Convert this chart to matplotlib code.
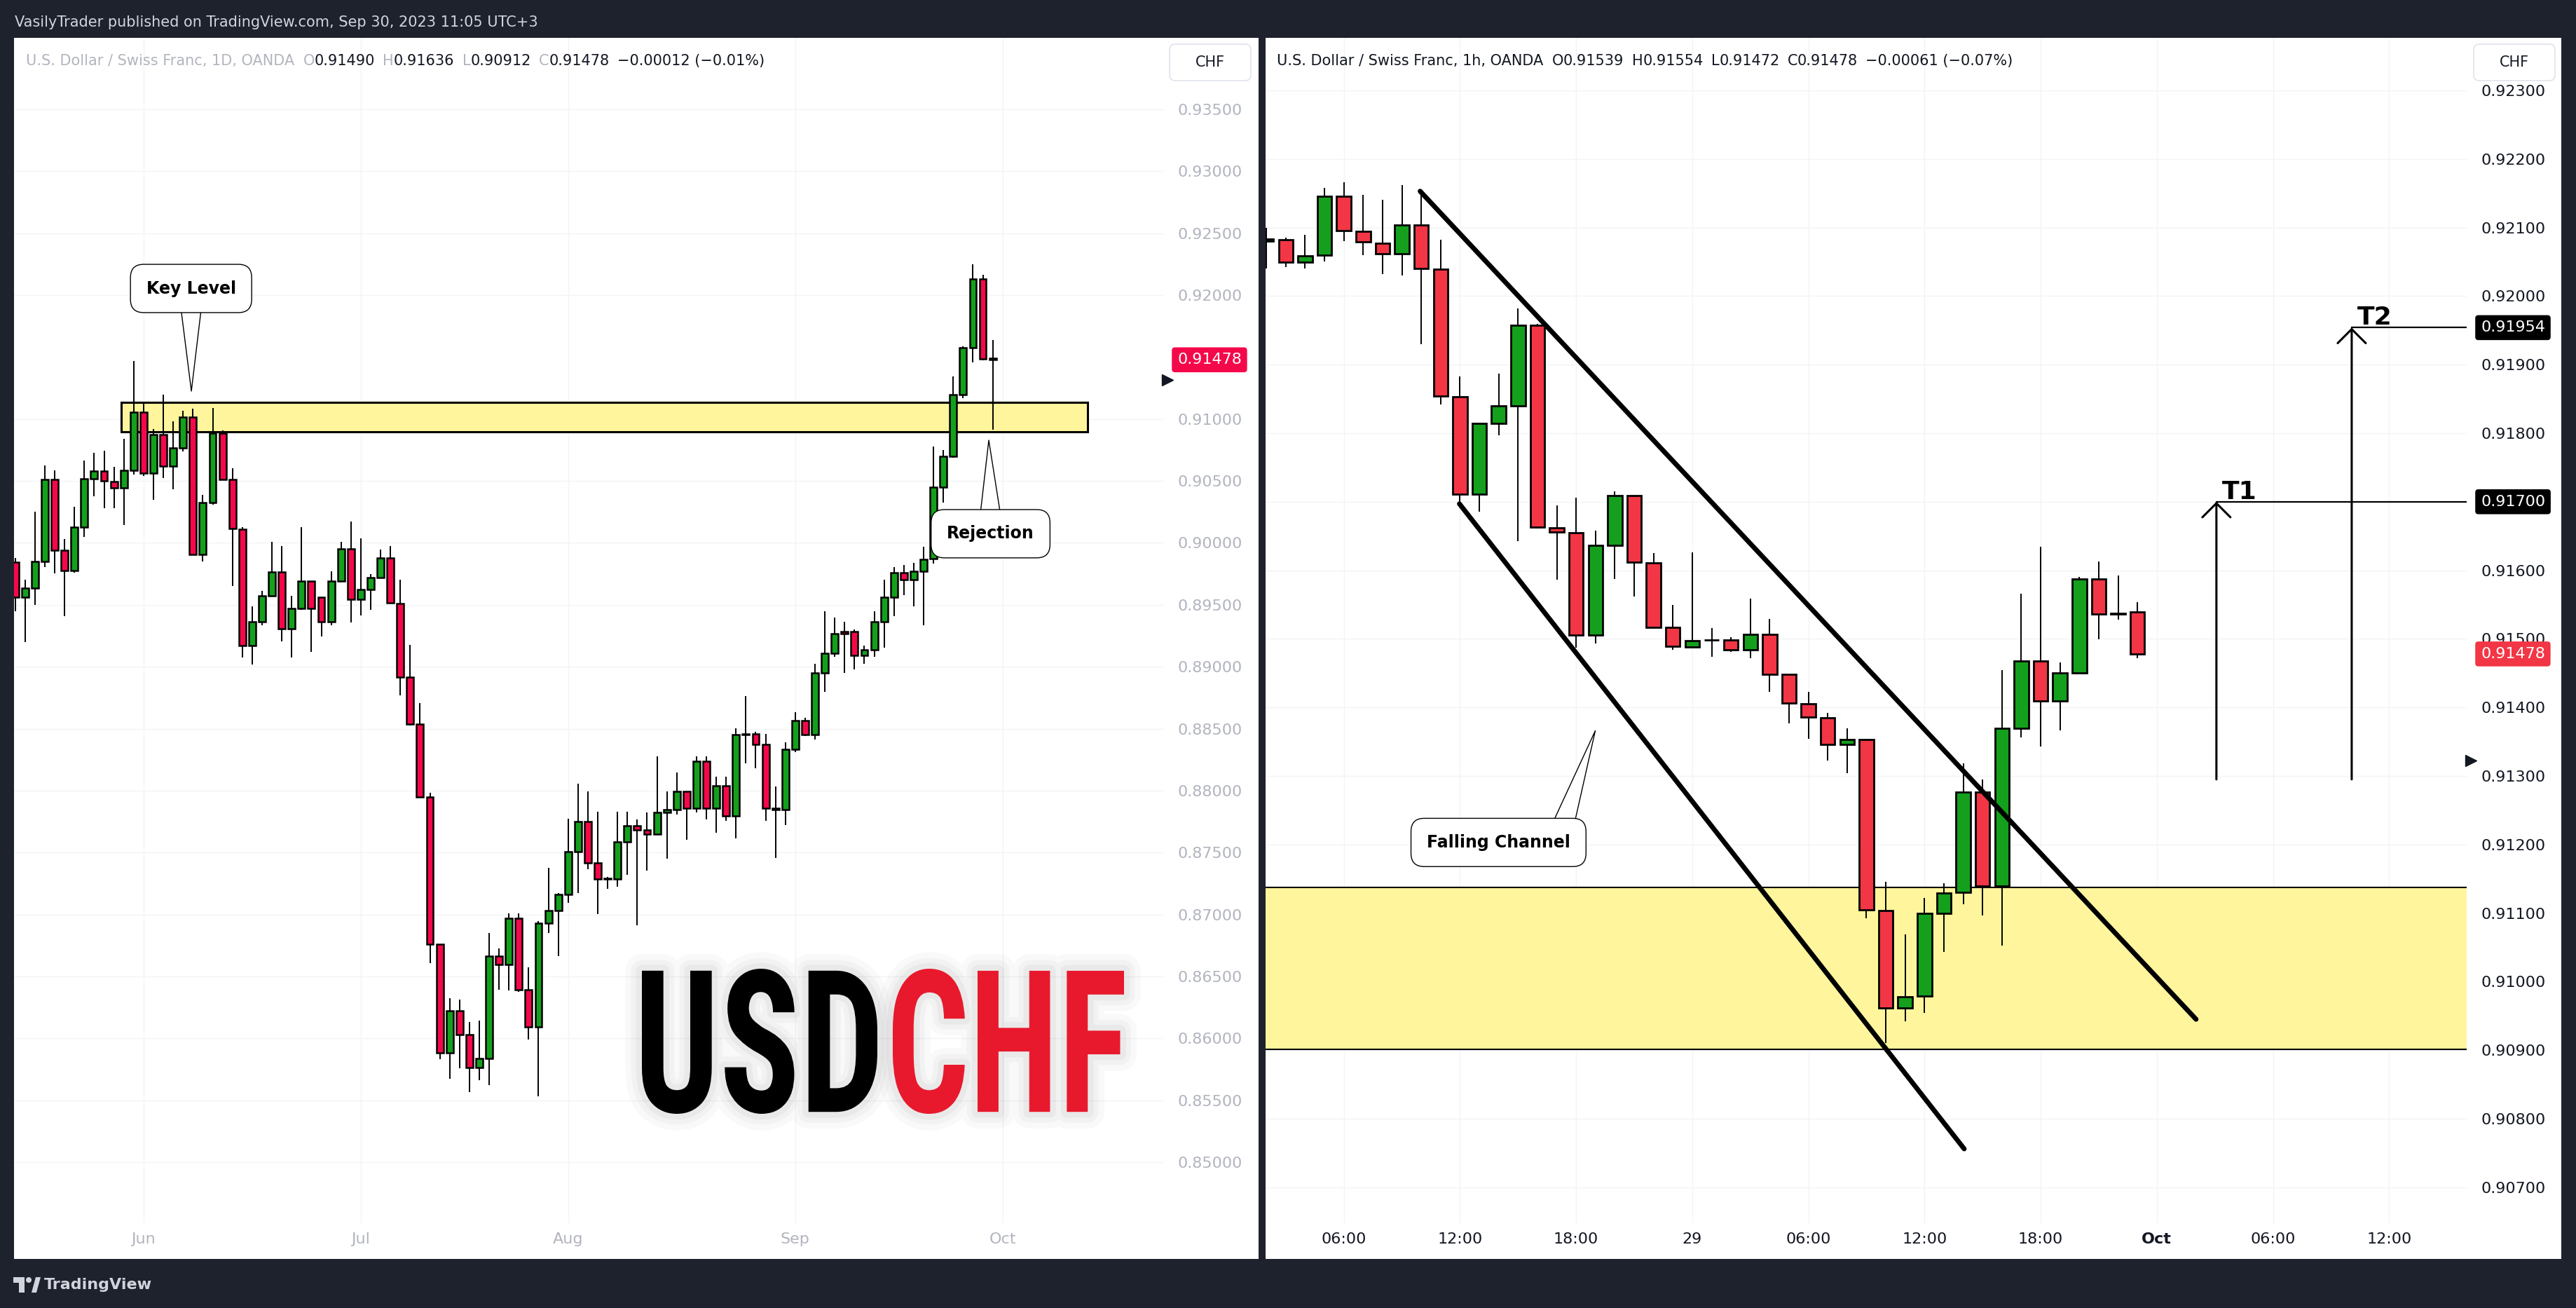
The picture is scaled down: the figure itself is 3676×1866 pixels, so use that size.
import matplotlib.pyplot as plt
import matplotlib.transforms as mtransforms
from matplotlib.patches import Rectangle, FancyBboxPatch, PathPatch, Polygon, Circle
from matplotlib.textpath import TextPath
from matplotlib.font_manager import FontProperties, findfont
import numpy as np

W, H = 3676, 1866
BG = '#1e222d'
DARK = '#131722'
GREY = '#b2b5be'
GREEN = '#14a01c'
RED_D = '#f5084a'
RED_H = '#f23645'
ZONE = '#fff59d'

plt.rcParams['font.family'] = 'DejaVu Sans'

# ---- daily candles, USDCHF 1D (index 1 .. 100, last = Sep 29) ----
d_open = [0.89843, 0.89560, 0.89634, 0.89848, 0.90513, 0.89939, 0.89775, 0.90129, 0.90518, 0.90578,
          0.90497, 0.90444, 0.90583, 0.91053, 0.90563, 0.90876, 0.90619, 0.90765, 0.91013, 0.89906,
          0.90323, 0.90884, 0.90513, 0.90113, 0.89171, 0.89366, 0.89571, 0.89765, 0.89307, 0.89473,
          0.89694, 0.89564, 0.89366, 0.89694, 0.89954, 0.89544, 0.89626, 0.89717, 0.89876, 0.89512,
          0.88918, 0.88538, 0.87946, 0.86761, 0.85884, 0.86225, 0.86030, 0.85767, 0.85835, 0.86663,
          0.86598, 0.86969, 0.86394, 0.86092, 0.86930, 0.87034, 0.87164, 0.87508, 0.87752, 0.87417,
          0.87287, 0.87287, 0.87586, 0.87719, 0.87683, 0.87651, 0.87823, 0.87846, 0.87995, 0.87856,
          0.88236, 0.87856, 0.88041, 0.87797, 0.88450, 0.88456, 0.88375, 0.87849, 0.87849, 0.88336,
          0.88564, 0.88450, 0.88953, 0.89106, 0.89285, 0.89285, 0.89090, 0.89138, 0.89366, 0.89561,
          0.89762, 0.89700, 0.89772, 0.89874, 0.90447, 0.90697, 0.91195, 0.91574, 0.92129, 0.91490]
d_high = [0.89880, 0.89704, 0.90252, 0.90626, 0.90588, 0.90033, 0.90290, 0.90664, 0.90727, 0.90745,
          0.90614, 0.90841, 0.91467, 0.91139, 0.90917, 0.91195, 0.90980, 0.91068, 0.91081, 0.90386,
          0.91089, 0.90909, 0.90601, 0.90130, 0.89489, 0.89610, 0.90009, 0.89973, 0.89571, 0.90129,
          0.89694, 0.89564, 0.89772, 0.90009, 0.90171, 0.90038, 0.89749, 0.89944, 0.89973, 0.89700,
          0.89177, 0.88706, 0.87985, 0.86761, 0.86322, 0.86313, 0.86134, 0.86141, 0.86849, 0.86725,
          0.87011, 0.87011, 0.86572, 0.86946, 0.87378, 0.87173, 0.87774, 0.88057, 0.87992, 0.87830,
          0.87303, 0.87830, 0.87830, 0.87765, 0.87823, 0.88278, 0.87992, 0.88148, 0.87995, 0.88278,
          0.88278, 0.88115, 0.88115, 0.88505, 0.88765, 0.88473, 0.88456, 0.88034, 0.88391, 0.88635,
          0.88586, 0.89025, 0.89447, 0.89398, 0.89366, 0.89301, 0.89171, 0.89447, 0.89700, 0.89804,
          0.89821, 0.89837, 0.89967, 0.90778, 0.90748, 0.91346, 0.91586, 0.92251, 0.92162, 0.91636]
d_low = [0.89450, 0.89199, 0.89497, 0.89805, 0.89755, 0.89411, 0.89760, 0.90050, 0.90379, 0.90278,
         0.90278, 0.90146, 0.90551, 0.90538, 0.90348, 0.90525, 0.90432, 0.90740, 0.89899, 0.89851,
         0.90311, 0.90513, 0.89654, 0.89074, 0.89018, 0.89333, 0.89571, 0.89203, 0.89074, 0.89457,
         0.89122, 0.89246, 0.89333, 0.89694, 0.89356, 0.89415, 0.89457, 0.89717, 0.89518, 0.88771,
         0.88528, 0.87946, 0.86605, 0.85832, 0.85673, 0.85761, 0.85566, 0.85663, 0.85621, 0.86394,
         0.86384, 0.86378, 0.85988, 0.85533, 0.86849, 0.86663, 0.87092, 0.87173, 0.87368, 0.87001,
         0.87206, 0.87222, 0.87320, 0.86914, 0.87352, 0.87644, 0.87450, 0.87807, 0.87606, 0.87823,
         0.87765, 0.87661, 0.87758, 0.87612, 0.88222, 0.88180, 0.87758, 0.87459, 0.87725, 0.88310,
         0.88440, 0.88414, 0.88797, 0.89083, 0.88953, 0.88976, 0.89025, 0.89083, 0.89155, 0.89408,
         0.89577, 0.89486, 0.89333, 0.89831, 0.90323, 0.90689, 0.91169, 0.91455, 0.91473, 0.90912]
d_close = [0.89560, 0.89634, 0.89848, 0.90513, 0.89939, 0.89775, 0.90129, 0.90518, 0.90578, 0.90503,
           0.90444, 0.90583, 0.91053, 0.90563, 0.90876, 0.90619, 0.90765, 0.91013, 0.89906, 0.90323,
           0.90884, 0.90513, 0.90114, 0.89171, 0.89366, 0.89571, 0.89765, 0.89307, 0.89473, 0.89694,
           0.89473, 0.89366, 0.89694, 0.89954, 0.89544, 0.89626, 0.89717, 0.89876, 0.89518, 0.88918,
           0.88538, 0.87946, 0.86761, 0.85884, 0.86225, 0.86030, 0.85767, 0.85835, 0.86663, 0.86598,
           0.86969, 0.86394, 0.86092, 0.86930, 0.87034, 0.87164, 0.87508, 0.87752, 0.87417, 0.87287,
           0.87290, 0.87586, 0.87719, 0.87683, 0.87651, 0.87823, 0.87846, 0.87995, 0.87856, 0.88236,
           0.87856, 0.88041, 0.87797, 0.88450, 0.88456, 0.88375, 0.87856, 0.87856, 0.88336, 0.88564,
           0.88450, 0.88953, 0.89106, 0.89268, 0.89268, 0.89090, 0.89138, 0.89366, 0.89561, 0.89762,
           0.89700, 0.89772, 0.89869, 0.90447, 0.90697, 0.91195, 0.91574, 0.92129, 0.91483, 0.91478]
d_month_pos = [14, 36, 57, 80, 101]
d_month_lab = ['Jun', 'Jul', 'Aug', 'Sep', 'Oct']
d_price_ticks = [0.850, 0.855, 0.860, 0.865, 0.870, 0.875, 0.880, 0.885, 0.890, 0.895,
                 0.900, 0.905, 0.910, 0.920, 0.925, 0.930, 0.935]
d_last = 0.91478
d_marker = 0.91316
key_zone = [0.90897, 0.91137]
key_zone_span = [11.75, 109.6]

# ---- hourly candles, USDCHF 1h (hour 0 = Sep 28 00:00) ----
h_hours = list(range(2, 48))
h_open = [0.92080, 0.92082, 0.92050, 0.92060, 0.92146, 0.92094, 0.92077, 0.92062, 0.92104, 0.92039,
          0.91853, 0.91711, 0.91814, 0.91840, 0.91957, 0.91662, 0.91655, 0.91506, 0.91636, 0.91709,
          0.91611, 0.91517, 0.91488, 0.91498, 0.91498, 0.91484, 0.91507, 0.91448, 0.91405, 0.91385,
          0.91346, 0.91353, 0.91104, 0.90962, 0.90979, 0.91100, 0.91130, 0.91276, 0.91139, 0.91370,
          0.91468, 0.91409, 0.91450, 0.91587, 0.91536, 0.91539]
h_high = [0.92100, 0.92085, 0.92089, 0.92158, 0.92166, 0.92148, 0.92141, 0.92162, 0.92149, 0.92082,
          0.91883, 0.91815, 0.91887, 0.91982, 0.91959, 0.91695, 0.91706, 0.91658, 0.91715, 0.91709,
          0.91625, 0.91549, 0.91626, 0.91516, 0.91502, 0.91559, 0.91529, 0.91448, 0.91423, 0.91392,
          0.91370, 0.91353, 0.91146, 0.91069, 0.91122, 0.91144, 0.91318, 0.91295, 0.91454, 0.91566,
          0.91634, 0.91466, 0.91590, 0.91613, 0.91592, 0.91554]
h_low = [0.92040, 0.92042, 0.92040, 0.92051, 0.92080, 0.92060, 0.92032, 0.92030, 0.91930, 0.91842,
         0.91695, 0.91685, 0.91797, 0.91643, 0.91661, 0.91586, 0.91487, 0.91493, 0.91587, 0.91562,
         0.91517, 0.91484, 0.91486, 0.91474, 0.91481, 0.91472, 0.91423, 0.91377, 0.91354, 0.91322,
         0.91304, 0.91092, 0.90910, 0.90942, 0.90954, 0.91043, 0.91113, 0.91096, 0.91053, 0.91356,
         0.91343, 0.91366, 0.91450, 0.91499, 0.91528, 0.91472]
h_close = [0.92083, 0.92050, 0.92059, 0.92146, 0.92096, 0.92079, 0.92062, 0.92104, 0.92040, 0.91854,
           0.91711, 0.91814, 0.91840, 0.91957, 0.91663, 0.91656, 0.91506, 0.91636, 0.91709, 0.91612,
           0.91517, 0.91489, 0.91497, 0.91498, 0.91484, 0.91507, 0.91448, 0.91406, 0.91386, 0.91346,
           0.91353, 0.91105, 0.90962, 0.90978, 0.91100, 0.91129, 0.91276, 0.91139, 0.91370, 0.91468,
           0.91409, 0.91450, 0.91587, 0.91536, 0.91536, 0.91478]
h_time_pos = [6, 12, 18, 24, 30, 36, 42, 48, 54, 60]
h_time_lab = ['06:00', '12:00', '18:00', '29', '06:00', '12:00', '18:00', 'Oct', '06:00', '12:00']
h_price_ticks = [0.907, 0.908, 0.909, 0.910, 0.911, 0.912, 0.913, 0.914, 0.915, 0.916,
                 0.917, 0.918, 0.919, 0.920, 0.921, 0.922, 0.923]
h_last = 0.91478
h_marker = 0.91322
demand_zone = [0.90901, 0.91137]
channel_upper_x = [9.94, 50.03]
channel_upper_y = [0.92153, 0.90945]
channel_lower_x = [11.97, 38.05]
channel_lower_y = [0.91697, 0.90756]
target_x = [51.08, 58.07]
target_from = [0.91295, 0.91295]
target_to = [0.91700, 0.91954]
target_lab = ['T1', 'T2']
target_tag = ['0.91700', '0.91954']

fig = plt.figure(figsize=(W / 100, H / 100), dpi=100, facecolor=BG)


def px_axes(x0, y0, x1, y1, z=1):
    return fig.add_axes([x0 / W, 1 - y1 / H, (x1 - x0) / W, (y1 - y0) / H], zorder=z)


# white panels
for x0, x1 in [(20, 1796), (1806, 3655)]:
    fig.add_artist(Rectangle((x0 / W, 1 - 1796 / H), (x1 - x0) / W, (1796 - 54) / H,
                             transform=fig.transFigure, fc='white', ec='none', zorder=-1))

axL = px_axes(20, 54, 1660, 1745)
axR = px_axes(1806, 54, 3520, 1745)
axL.set_xlim(0.879, 117.27)
axL.set_ylim(0.845079, 0.940772)
axR.set_xlim(1.956, 64.01)
axR.set_ylim(0.906476, 0.923767)


def candles(ax, x, o, hi, lo, c, red, width, min_h, lw_body):
    x = np.asarray(x, float)
    o = np.asarray(o)
    c = np.asarray(c)
    ax.vlines(x, lo, hi, color='black', lw=1.4, zorder=3)
    bottom = np.minimum(o, c)
    height = np.maximum(np.abs(c - o), min_h)
    cols = [GREEN if cc >= oo else red for oo, cc in zip(o, c)]
    ax.bar(x, height, width, bottom, color=cols, edgecolor='black', linewidth=lw_body, zorder=4)


def style_axes(ax, yt, xt, xl, col, pad_y):
    for s in ax.spines.values():
        s.set_visible(False)
    ax.yaxis.tick_right()
    ax.set_yticks(yt)
    ax.set_yticklabels([f'{v:.5f}' for v in yt])
    ax.set_xticks(xt)
    ax.set_xticklabels(xl)
    ax.tick_params(axis='y', length=0, pad=pad_y, labelsize=16, labelcolor=col)
    ax.tick_params(axis='x', length=0, pad=9, labelsize=16, labelcolor=col)
    ax.grid(color='#f3f4f6', lw=1)
    ax.set_axisbelow(True)


style_axes(axL, d_price_ticks, d_month_pos, d_month_lab, GREY, 14.4)
style_axes(axR, h_price_ticks, h_time_pos, h_time_lab, DARK, 14.4)
axR.get_xticklabels()[7].set_fontweight('bold')

# zones
axL.add_patch(Rectangle((key_zone_span[0], key_zone[0]), key_zone_span[1] - key_zone_span[0],
                        key_zone[1] - key_zone[0], fc=ZONE, ec='black', lw=2.2, zorder=2))
axR.axhspan(demand_zone[0], demand_zone[1], fc=ZONE, ec='none', zorder=1)
for p in demand_zone:
    axR.axhline(p, color='black', lw=1.5, zorder=2)

candles(axL, np.arange(1, len(d_open) + 1), d_open, d_high, d_low, d_close, RED_D, 0.7, 0.00004, 1.8)
candles(axR, h_hours, h_open, h_high, h_low, h_close, RED_H, 0.74, 0.000008, 2.0)

# falling channel
axR.plot(channel_upper_x, channel_upper_y, color='black', lw=5, solid_capstyle='round', zorder=5)
axR.plot(channel_lower_x, channel_lower_y, color='black', lw=5, solid_capstyle='round', zorder=5)

# targets
xr = axR.get_xlim()[1]
for tx, tb, tt, lab, tag in zip(target_x, target_from, target_to, target_lab, target_tag):
    axR.annotate('', xy=(tx, tt), xytext=(tx, tb),
                 arrowprops=dict(arrowstyle='->,head_length=0.72,head_width=0.72', lw=2.2,
                                 color='black', shrinkA=0, shrinkB=0, mutation_scale=20), zorder=6)
    axR.plot([tx, xr], [tt, tt], color='black', lw=1.6, zorder=6)
    axR.text(tx + 0.3, tt + 0.00004, lab, fontsize=26, fontweight='semibold', ha='left',
             va='baseline', color='black', zorder=6)


def callout(ax, text, box_xy, tip_xy, relpos):
    ax.annotate(text, xy=tip_xy, xytext=box_xy, xycoords='data', textcoords='data',
                ha='center', va='center', fontsize=17, fontweight='bold', color='black', zorder=7,
                bbox=dict(boxstyle='round,pad=0.95,rounding_size=0.8', fc='white', ec='black', lw=1),
                arrowprops=dict(arrowstyle='wedge,tail_width=1.4,shrink_factor=0.5', fc='white',
                                ec='black', lw=1, relpos=relpos, patchA=None, shrinkA=0, shrinkB=0))


callout(axL, 'Key Level', (18.81, 0.92054), (18.84, 0.91225), (0.5, 0.0))
callout(axL, 'Rejection', (99.78, 0.90074), (99.6, 0.90829), (0.5, 1.0))
callout(axR, 'Falling Channel', (13.99, 0.91203), (18.99, 0.91366), (0.93, 1.0))


def price_tag(ax, p, txt, fc):
    ax.annotate(txt, xy=(1, p), xycoords=('axes fraction', 'data'), xytext=(14.4, 0),
                textcoords='offset points', ha='left', va='center', fontsize=16, color='white',
                bbox=dict(boxstyle='round,pad=0.35,rounding_size=0.2', fc=fc, ec='none'),
                annotation_clip=False, zorder=8)


price_tag(axL, d_last, f'{d_last:.5f}', RED_D)
price_tag(axR, h_last, f'{h_last:.5f}', RED_H)
for tt, tag in zip(target_to, target_tag):
    price_tag(axR, tt, tag, 'black')

for ax, p in [(axL, d_marker), (axR, h_marker)]:
    tr = mtransforms.blended_transform_factory(ax.transAxes, ax.transData)
    ax.plot([1.0035], [p], marker='>', ms=11, color=DARK, transform=tr, clip_on=False, zorder=8)

# ---- overlay in pixel coordinates ----
ov = fig.add_axes([0, 0, 1, 1], zorder=10)
ov.set_xlim(0, W)
ov.set_ylim(H, 0)
ov.axis('off')

ov.text(21, 32, 'VasilyTrader published on TradingView.com, Sep 30, 2023 11:05 UTC+3',
        color='#d1d4dc', fontsize=15, va='center', ha='left')


def chain(x, y, pieces):
    s, col, _ = pieces[0]
    prev = ov.text(x, y, s, color=col, fontsize=15, va='baseline', ha='left')
    for s, col, gap in pieces[1:]:
        prev = ov.annotate(s, xy=(1, 0), xycoords=prev, xytext=(gap, 0), textcoords='offset points',
                           color=col, fontsize=15, va='bottom', ha='left')


chain(37, 93, [('U.S. Dollar / Swiss Franc, 1D, OANDA', GREY, 0), ('O', GREY, 9), ('0.91490', DARK, 0),
               ('H', GREY, 8), ('0.91636', DARK, 0), ('L', GREY, 8), ('0.90912', DARK, 0),
               ('C', GREY, 8), ('0.91478', DARK, 0), ('\u22120.00012 (\u22120.01%)', DARK, 8)])
chain(1822, 93, [('U.S. Dollar / Swiss Franc, 1h, OANDA', DARK, 0), ('O', DARK, 9), ('0.91539', DARK, 0),
                 ('H', DARK, 8), ('0.91554', DARK, 0), ('L', DARK, 8), ('0.91472', DARK, 0),
                 ('C', DARK, 8), ('0.91478', DARK, 0), ('\u22120.00061 (\u22120.07%)', DARK, 8)])

for cx in (1727, 3588):
    ov.add_patch(FancyBboxPatch((cx - 58, 63), 116, 52, boxstyle='round,pad=0,rounding_size=8',
                                fc='white', ec='#e0e3eb', lw=1.2))
    ov.text(cx, 89, 'CHF', fontsize=15, color=DARK, ha='center', va='center')


def pick_font(names):
    for n in names:
        try:
            findfont(FontProperties(family=n, weight='bold'), fallback_to_default=False)
            return n
        except Exception:
            pass
    return 'DejaVu Sans'


fp = FontProperties(family=pick_font(['Liberation Sans Narrow', 'Roboto Condensed', 'DejaVu Sans']),
                    weight='bold')


def big_word(s, x0, y0, x1, y1, col):
    tp = TextPath((0, 0), s, size=100, prop=fp)
    ext = tp.get_extents()
    tr = (mtransforms.Affine2D().translate(-ext.x0, -ext.y0)
          .scale((x1 - x0) / ext.width, -(y1 - y0) / ext.height).translate(x0, y1))
    path = tr.transform_path(tp)
    for lw, a in [(34, 0.03), (22, 0.04), (12, 0.05)]:
        ov.add_patch(PathPatch(path, fc='none', ec=(0.3, 0.3, 0.3, a), lw=lw, joinstyle='round'))
    ov.add_patch(PathPatch(path, fc=col, ec='none'))


big_word('USD', 916, 1382, 1252, 1589, 'black')
big_word('CHF', 1274, 1382, 1604, 1589, '#e8192c')

# TradingView logo
LOGO = '#d1d4dc'
ov.add_patch(Rectangle((19, 1822), 16, 8, fc=LOGO, ec='none'))
ov.add_patch(Rectangle((27, 1822), 8, 22, fc=LOGO, ec='none'))
ov.add_patch(Circle((41, 1826), 4, fc=LOGO, ec='none'))
ov.add_patch(Polygon([(45, 1844), (51, 1822), (58, 1822), (52, 1844)], fc=LOGO, ec='none'))
ov.text(63, 1833, 'TradingView', color=LOGO, fontsize=16, fontweight='bold', va='center', ha='left')

fig.savefig('out.png', dpi=100, facecolor=BG)
